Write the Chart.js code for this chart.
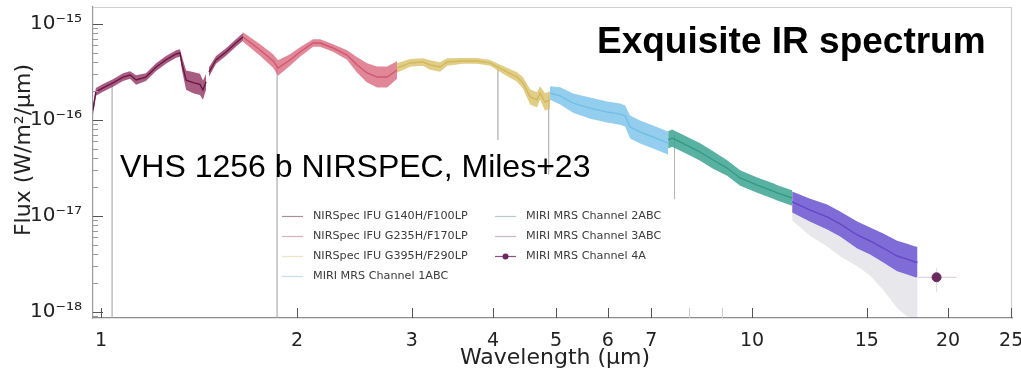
<!DOCTYPE html>
<html lang="en">
<head>
<meta charset="UTF-8">
<title>VHS 1256 b - Exquisite IR spectrum</title>
<script src="https://cdn.jsdelivr.net/npm/chart.js"></script>
<style>
  html, body { margin: 0; padding: 0; background: #fff; }
  #wrap { width: 1021px; height: 369px; position: relative; }
</style>
</head>
<body>
<div id="wrap"><canvas id="spec"></canvas></div>
<script>
// wavelength in micron, flux in W/m^2/micron, noise = half width of the scatter band (dex)
const g140Wave  = [0.972, 0.982, 1.007, 1.043, 1.081, 1.108, 1.132, 1.172, 1.215, 1.258, 1.304, 1.322, 1.331, 1.351, 1.385, 1.419, 1.434, 1.450, 1.458, 1.465, 1.502, 1.556, 1.611, 1.652];
const g140Flux  = [1.27e-16, 1.96e-16, 2.16e-16, 2.43e-16, 2.80e-16, 2.94e-16, 2.61e-16, 2.80e-16, 3.56e-16, 4.22e-16, 4.87e-16, 4.99e-16, 3.90e-16, 2.60e-16, 2.45e-16, 2.35e-16, 2.05e-16, 2.50e-16, null, 3.16e-16, 4.22e-16, 5.11e-16, 6.34e-16, 7.33e-16];
const g140Noise = [0.05, 0.04, 0.04, 0.04, 0.04, 0.04, 0.05, 0.04, 0.04, 0.04, 0.04, 0.04, 0.07, 0.10, 0.11, 0.11, 0.10, 0.08, null, 0.05, 0.04, 0.04, 0.04, 0.04];

const g235Wave  = [1.652, 1.755, 1.838, 1.870, 1.951, 2.021, 2.117, 2.170, 2.272, 2.387, 2.474, 2.562, 2.655, 2.751, 2.849];
const g235Flux  = [7.33e-16, 5.36e-16, 4.12e-16, 3.48e-16, 4.22e-16, 5.11e-16, 6.34e-16, 6.34e-16, 5.62e-16, 4.75e-16, 3.74e-16, 3.09e-16, 2.80e-16, 2.80e-16, 3.32e-16];
const g235Noise = [0.05, 0.06, 0.07, 0.08, 0.06, 0.05, 0.04, 0.04, 0.04, 0.05, 0.08, 0.10, 0.11, 0.11, 0.09];

const g395Wave  = [2.849, 2.983, 3.124, 3.202, 3.317, 3.401, 3.598, 3.781, 3.958, 4.144, 4.355, 4.448, 4.560, 4.674, 4.724, 4.808, 4.894];
const g395Flux  = [3.48e-16, 3.93e-16, 4.02e-16, 3.74e-16, 3.56e-16, 4.02e-16, 4.12e-16, 4.12e-16, 3.93e-16, 3.32e-16, 2.80e-16, 2.43e-16, 1.74e-16, 1.62e-16, 1.91e-16, 1.54e-16, 1.62e-16];
const g395Noise = [0.05, 0.04, 0.04, 0.05, 0.05, 0.04, 0.03, 0.03, 0.03, 0.04, 0.05, 0.06, 0.08, 0.08, 0.07, 0.09, 0.09];

const ch1Wave  = [4.894, 5.072, 5.309, 5.639, 5.988, 6.270, 6.382, 6.496, 6.729, 7.045, 7.430];
const ch1Flux  = [1.91e-16, 1.78e-16, 1.50e-16, 1.33e-16, 1.21e-16, 1.15e-16, 1.10e-16, 8.45e-17, 7.50e-17, 6.65e-17, 5.75e-17];
const ch1Noise = [0.07, 0.09, 0.10, 0.11, 0.11, 0.11, 0.11, 0.12, 0.12, 0.12, 0.12];

const ch2Wave  = [7.430, 7.535, 8.030, 8.320, 8.712, 9.154, 9.585, 10.18, 10.77, 10.93, 11.52];
const ch2Flux  = [6.20e-17, 6.49e-17, 5.24e-17, 4.64e-17, 3.83e-17, 3.16e-17, 2.49e-17, 2.10e-17, 1.82e-17, 1.74e-17, 1.54e-17];
const ch2Noise = [0.09, 0.09, 0.09, 0.09, 0.09, 0.08, 0.08, 0.08, 0.08, 0.08, 0.08];

const ch3Wave  = [11.52, 12.28, 13.04, 13.65, 14.50, 15.18, 15.90, 16.70, 17.30, 17.80, 17.95];
const ch3Flux  = [1.40e-17, 1.15e-17, 9.77e-18, 8.26e-18, 6.34e-18, 5.49e-18, 4.64e-18, 3.83e-18, 3.56e-18, 3.32e-18, 3.30e-18];
const ch3Noise = [0.11, 0.12, 0.13, 0.13, 0.14, 0.14, 0.15, 0.16, 0.16, 0.16, 0.16];
const ch3Floor = [9.0e-18, 6.2e-18, 4.8e-18, 3.8e-18, 3.0e-18, 2.4e-18, 1.7e-18, 1.1e-18, 9.0e-19, 8.7e-19, 8.7e-19];

const ch4Wave = [19.2], ch4Flux = [2.3e-18];
const ch4WaveLo = [18.0], ch4WaveHi = [20.6];
const ch4FluxLo = [1.6e-18], ch4FluxHi = [2.9e-18];

// deep single-pixel noise spikes
const spikeWave   = [1.04, 1.864, 4.07, 4.87, 7.6];
const spikeTop    = [2.3e-16, 3.7e-16, 3.7e-16, 1.8e-16, 6.9e-17];
const spikeBottom = [8.7e-19, 8.7e-19, 6.2e-17, 2.7e-17, 1.5e-17];

const xTicks      = [1, 2, 3, 4, 5, 6, 7, 8, 9, 10, 15, 20, 25];
const xTickLabels = ['1', '2', '3', '4', '5', '6', '7', '', '', '10', '15', '20', '25'];
const yTicks      = [1e-18, 1e-17, 1e-16, 1e-15];
const yTickLabels = ['10⁻¹⁸', '10⁻¹⁷', '10⁻¹⁶', '10⁻¹⁵'];

const X_MIN = 0.972, X_MAX = 25.07, Y_MIN = 8.66e-19, Y_MAX = 1.503e-15;

const segments = [
  { label: 'NIRSpec IFU G140H/F100LP', wave: g140Wave, flux: g140Flux, noise: g140Noise, line: '#6a1843', band: 'rgba(140,38,88,0.75)', key: 'rgba(110,70,95,0.6)' },
  { label: 'NIRSpec IFU G235H/F170LP', wave: g235Wave, flux: g235Flux, noise: g235Noise, line: '#cf5870', band: 'rgba(218,105,125,0.8)', key: 'rgba(190,130,140,0.6)' },
  { label: 'NIRSpec IFU G395H/F290LP', wave: g395Wave, flux: g395Flux, noise: g395Noise, line: '#d2b95e', band: 'rgba(220,196,112,0.85)', key: 'rgba(225,210,150,0.6)' },
  { label: 'MIRI MRS Channel 1ABC', wave: ch1Wave, flux: ch1Flux, noise: ch1Noise, line: '#72bfe6', band: 'rgba(128,198,236,0.85)', key: 'rgba(160,200,230,0.6)' },
  { label: 'MIRI MRS Channel 2ABC', wave: ch2Wave, flux: ch2Flux, noise: ch2Noise, line: '#339a88', band: 'rgba(60,163,145,0.85)', key: 'rgba(140,165,170,0.6)' },
  { label: 'MIRI MRS Channel 3ABC', wave: ch3Wave, flux: ch3Flux, noise: ch3Noise, line: '#6248c8', band: 'rgba(106,82,208,0.85)', key: 'rgba(170,130,175,0.6)' }
];
const ch4Label = 'MIRI MRS Channel 4A';
const ch4Color = '#6b2a5e';

function pts(w, f) { return w.map((x, i) => ({ x: x, y: f[i] })); }
function shifted(f, n, sign) { return f.map((v, i) => v === null ? null : v * Math.pow(10, sign * n[i])); }

const datasets = [];

// faint spikes first so they sit behind everything
spikeWave.forEach((w, i) => {
  datasets.push({ data: [{ x: w, y: spikeTop[i] }, { x: w, y: spikeBottom[i] }],
    borderColor: 'rgba(170,170,175,0.5)', borderWidth: 1, pointRadius: 0, fill: false, order: 10 });
});

// grey haze of the noisy long-wavelength end
datasets.push({ data: pts(ch3Wave, shifted(ch3Flux, ch3Noise, -1)), borderWidth: 0, pointRadius: 0,
  fill: '+1', backgroundColor: 'rgba(120,118,140,0.17)', order: 9 });
datasets.push({ data: pts(ch3Wave, ch3Floor), borderWidth: 0, pointRadius: 0, fill: false, order: 9 });

segments.forEach(s => {
  datasets.push({ data: pts(s.wave, shifted(s.flux, s.noise, 1)), borderWidth: 0, pointRadius: 0,
    fill: '+1', backgroundColor: s.band, spanGaps: false, order: 5 });
  datasets.push({ data: pts(s.wave, shifted(s.flux, s.noise, -1)), borderWidth: 0, pointRadius: 0,
    fill: false, spanGaps: false, order: 5 });
  datasets.push({ data: pts(s.wave, s.flux), borderColor: s.line, borderWidth: 1.4, pointRadius: 0,
    fill: false, spanGaps: false, order: 4 });
});

// channel 4A point with error bars
datasets.push({ data: [{ x: ch4WaveLo[0], y: ch4Flux[0] }, { x: ch4WaveHi[0], y: ch4Flux[0] }],
  borderColor: 'rgba(200,175,190,0.7)', borderWidth: 1, pointRadius: 0, fill: false, order: 3 });
datasets.push({ data: [{ x: ch4Wave[0], y: ch4FluxLo[0] }, { x: ch4Wave[0], y: ch4FluxHi[0] }],
  borderColor: 'rgba(215,200,210,0.6)', borderWidth: 1, pointRadius: 0, fill: false, order: 3 });
datasets.push({ data: pts(ch4Wave, ch4Flux), showLine: false, pointRadius: 4.5,
  pointBackgroundColor: ch4Color, pointBorderColor: ch4Color, order: 2 });

const framePlugin = {
  id: 'frame',
  afterDatasetsDraw(chart) {
    const { ctx, chartArea: a, scales: { x, y } } = chart;
    ctx.save();
    ctx.strokeStyle = '#cfcfcf';
    ctx.lineWidth = 1.2;
    ctx.beginPath();
    ctx.moveTo(a.left, a.top + 0.5); ctx.lineTo(a.right, a.top + 0.5);
    ctx.moveTo(a.right - 0.5, a.top); ctx.lineTo(a.right - 0.5, a.bottom);
    ctx.stroke();
    // inward x ticks
    xTicks.forEach((v, i) => {
      const px = Math.round(x.getPixelForValue(v)) + 0.5;
      ctx.strokeStyle = xTickLabels[i] ? '#555' : '#cccccc';
      ctx.lineWidth = 1;
      ctx.beginPath(); ctx.moveTo(px, a.bottom); ctx.lineTo(px, a.bottom - 10); ctx.stroke();
    });
    // inward y ticks, majors and minors
    for (let d = -19; d <= -15; d++) {
      for (let m = 1; m <= 9; m++) {
        const v = m * Math.pow(10, d);
        if (v < Y_MIN || v > Y_MAX) continue;
        const py = Math.round(y.getPixelForValue(v)) + 0.5;
        ctx.strokeStyle = m === 1 ? '#555' : '#999';
        ctx.beginPath(); ctx.moveTo(a.left, py); ctx.lineTo(a.left + (m === 1 ? 10 : 5), py); ctx.stroke();
      }
    }
    ctx.restore();
  },
  afterDraw(chart) {
    const { ctx } = chart;
    ctx.save();
    // axis titles
    ctx.fillStyle = '#222';
    ctx.font = '22px "DejaVu Sans"';
    ctx.textAlign = 'center';
    ctx.textBaseline = 'alphabetic';
    ctx.fillText('Wavelength (μm)', 555, 364);
    ctx.translate(30, 150);
    ctx.rotate(-Math.PI / 2);
    ctx.fillText('Flux (W/m²/μm)', 0, 0);
    ctx.restore();

    ctx.save();
    ctx.fillStyle = '#000';
    ctx.textAlign = 'left';
    ctx.font = 'bold 37px "Liberation Sans", Arial, sans-serif';
    ctx.fillText('Exquisite IR spectrum', 597, 53);
    ctx.font = '32px "Liberation Sans", Arial, sans-serif';
    ctx.fillText('VHS 1256 b NIRSPEC, Miles+23', 120, 177);

    // two-column legend
    const rows = [216, 236, 256, 276];
    ctx.font = '11.2px "DejaVu Sans"';
    ctx.textBaseline = 'middle';
    const items = segments.map(s => ({ label: s.label, color: s.key, marker: false }));
    items.push({ label: ch4Label, color: ch4Color, marker: true });
    items.forEach((it, i) => {
      const col = i < 4 ? 0 : 1;
      const yy = rows[col === 0 ? i : i - 4] + 0.5;
      const x0 = col === 0 ? 282 : 495;
      ctx.strokeStyle = it.marker ? 'rgba(107,42,94,0.8)' : it.color;
      ctx.lineWidth = 1.2;
      ctx.beginPath(); ctx.moveTo(x0, yy); ctx.lineTo(x0 + 21, yy); ctx.stroke();
      if (it.marker) {
        ctx.fillStyle = it.color;
        ctx.beginPath(); ctx.arc(x0 + 10.5, yy, 3, 0, Math.PI * 2); ctx.fill();
      }
      ctx.fillStyle = '#3c3c3c';
      ctx.fillText(it.label, x0 + 31, yy);
    });
    ctx.restore();
  }
};

new Chart(document.getElementById('spec'), {
  type: 'line',
  data: { datasets: datasets },
  options: {
    responsive: true,
    maintainAspectRatio: false,
    animation: false,
    layout: { padding: { top: 7, right: 9, left: 0, bottom: 0 } },
    plugins: { legend: { display: false }, tooltip: { enabled: false } },
    elements: { line: { tension: 0 } },
    scales: {
      x: {
        type: 'logarithmic', min: X_MIN, max: X_MAX,
        grid: { display: false },
        border: { display: true, color: '#8a8a8a', width: 1.2 },
        afterBuildTicks: s => { s.ticks = xTicks.map(v => ({ value: v })); },
        afterFit: s => { s.height = 51; s.paddingLeft = 0; s.paddingRight = 0; },
        ticks: { autoSkip: false, maxRotation: 0, padding: 4, color: '#222',
          font: { family: 'DejaVu Sans', size: 19 },
          callback: (v, i) => xTickLabels[i] }
      },
      y: {
        type: 'logarithmic', min: Y_MIN, max: Y_MAX,
        grid: { display: false },
        border: { display: true, color: '#9a9a9a', width: 1.2 },
        afterBuildTicks: s => { s.ticks = yTicks.map(v => ({ value: v })); },
        afterFit: s => { s.width = 93; s.paddingTop = 0; s.paddingBottom = 0; },
        ticks: { autoSkip: false, padding: 3, color: '#222',
          font: { family: 'DejaVu Sans', size: 20 },
          callback: (v, i) => yTickLabels[i] }
      }
    }
  },
  plugins: [framePlugin]
});
</script>
</body>
</html>
